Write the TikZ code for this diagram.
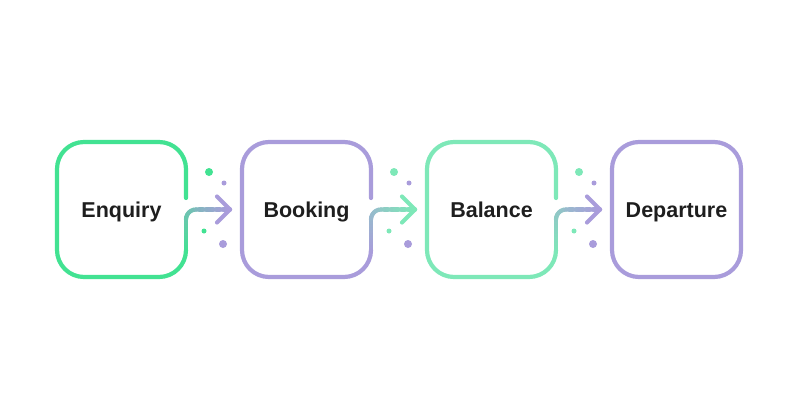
\documentclass[tikz,border=0pt]{standalone}
\usepackage{fontspec}
\setmainfont{Liberation Sans}
\usetikzlibrary{calc}
\definecolor{gA}{HTML}{42E292}
\definecolor{gB}{HTML}{7EE8B8}
\definecolor{pu}{HTML}{A99CDB}
\definecolor{ink}{HTML}{1E1E1E}
\tikzset{
  stage/.style={minimum width=129pt, minimum height=135pt, outer sep=0pt, inner sep=0pt,
    text height=15pt, text depth=0pt, text=ink, font=\fontsize{21.5pt}{25pt}\selectfont\bfseries},
  outline/.style={line width=4.2pt, rounded corners=27pt, line cap=round, line join=round},
  conn/.style={line width=4.2pt, line cap=round, line join=round},
  dotbig/.style={circle, inner sep=0pt, minimum size=8pt},
  dotsmall/.style={circle, inner sep=0pt, minimum size=5pt}
}
% #1 from node, #2 to node, #3 from colour, #4 to colour, #5 green of the dots
\newcommand\flowlink[5]{%
  \coordinate (#1v0) at ($(#1.south east)+(0,-27)$);
  \coordinate (#1v1) at ($(#1.south east)+(0,-57.5)$);
  \coordinate (#1c) at ($(#1.south east)+(10,-57.5)$);
  \coordinate (#1h0) at ($(#1.south east)+(10,-67.5)$);
  \coordinate (#1h1) at ($(#2.west)+(-12,0)$);
  \foreach \i in {0,...,9}{
    \pgfmathtruncatemacro\p{100-3.05*(\i+0.5)*1.1}
    \draw[conn,draw=#3!\p!#4] ($(#1v0)!{\i/10}!(#1v1)$) -- ($(#1v0)!{(\i+1)/10}!(#1v1)$);
  }
  \foreach \i in {0,...,5}{
    \pgfmathtruncatemacro\p{100-(30.5+2.62*(\i+0.5))*1.1}
    \draw[conn,draw=#3!\p!#4] ($(#1c)+({180+15*\i}:10)$) -- ($(#1c)+({195+15*\i}:10)$);
  }
  \foreach \i in {0,...,9}{
    \pgfmathtruncatemacro\p{max(0,100-(46.2+3.4*(\i+0.5))*1.25)}
    \draw[conn,draw=#3!\p!#4] ($(#1h0)!{\i/10}!(#1h1)$) -- ($(#1h0)!{(\i+1)/10}!(#1h1)$);
  }
  \draw[conn,draw=#4] ($(#1h1)+(-13,-13)$) -- (#1h1) -- ($(#1h1)+(-13,13)$);
  \node[dotbig,fill=#5] (#1d1) at ($(#1.east)+(23,-37.5)$) {};
  \node[dotsmall,fill=pu] (#1d2) at ($(#1.east)+(38,-26.5)$) {};
  \node[dotsmall,fill=#5] (#1d3) at ($(#1.east)+(18,21.5)$) {};
  \node[dotbig,fill=pu] (#1d4) at ($(#1.east)+(37,34.5)$) {};
}
\newcommand\openbox[2]{%
  \draw[outline,draw=#2] ($(#1.east)+(0,-11.5)$) -- (#1.north east) -- (#1.north west)
    -- (#1.south west) -- (#1.south east) -- ($(#1.south east)+(0,-27)$);
}
\begin{document}
\begin{tikzpicture}[x=1pt,y=-1pt]
\useasboundingbox (0,0) rectangle (800,420);
\node[stage] (enq) at (121.5,209.5) {Enquiry};
\node[stage] (boo) at (306.5,209.5) {Booking};
\node[stage] (bal) at (491.5,209.5) {Balance};
\node[stage] (dep) at (676.5,209.5) {Departure};
\openbox{enq}{gA}
\openbox{boo}{pu}
\openbox{bal}{gB}
\draw[outline,draw=pu] (dep.north east) -- (dep.north west) -- (dep.south west) -- (dep.south east) -- cycle;
\flowlink{enq}{boo}{gA}{pu}{gA}
\flowlink{boo}{bal}{pu}{gB}{gB}
\flowlink{bal}{dep}{gB}{pu}{gB}
\end{tikzpicture}
\end{document}
